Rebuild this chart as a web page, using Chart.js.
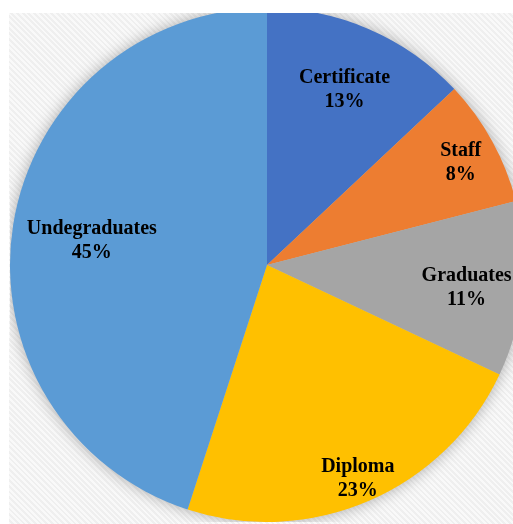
<!DOCTYPE html>
<html>
<head>
<meta charset="utf-8">
<script src="https://cdn.jsdelivr.net/npm/chart.js@4"></script>
<style>
  html, body { margin: 0; padding: 0; background: #ffffff; overflow: hidden; }
  #frame {
    position: absolute;
    left: 9px;
    top: 13px;
    width: 504px;
    height: 511px;
    overflow: hidden;
    background: repeating-linear-gradient(45deg, #f9f9f9 0px, #f9f9f9 2px, #efefef 2px, #efefef 4px);
  }
  #chart { position: absolute; left: 1px; top: -5px; }
</style>
</head>
<body>
<div id="frame">
  <canvas id="chart" width="514" height="514"></canvas>
</div>
<script>
const categories = ['Certificate', 'Staff', 'Graduates', 'Diploma', 'Undegraduates'];
const shares = [13, 8, 11, 23, 45];

const sliceColors = ['#4472C4', '#ED7D31', '#A5A5A5', '#FFC000', '#5B9BD5'];
// how far out along each slice the label sits (fraction of the radius)
const labelRadius = [0.76, 0.86, 0.78, 0.89, 0.69];

// soft grey glow behind the whole pie
const pieShadow = {
  id: 'pieShadow',
  beforeDatasetsDraw(chart) {
    const arc = chart.getDatasetMeta(0).data[0];
    if (!arc) return;
    const ctx = chart.ctx;
    ctx.save();
    ctx.shadowColor = 'rgba(0, 0, 0, 0.35)';
    ctx.shadowBlur = 16;
    ctx.fillStyle = '#bbbbbb';
    ctx.beginPath();
    ctx.arc(arc.x, arc.y, arc.outerRadius - 1, 0, Math.PI * 2);
    ctx.fill();
    ctx.restore();
  }
};

// category name and percent drawn inside each slice
const sliceLabels = {
  id: 'sliceLabels',
  afterDatasetsDraw(chart) {
    const ctx = chart.ctx;
    const meta = chart.getDatasetMeta(0);
    ctx.save();
    ctx.fillStyle = '#000000';
    ctx.font = 'bold 20px "Liberation Serif", "Times New Roman", serif';
    ctx.textAlign = 'center';
    ctx.textBaseline = 'middle';
    meta.data.forEach((arc, i) => {
      const mid = (arc.startAngle + arc.endAngle) / 2;
      const r = arc.outerRadius * labelRadius[i];
      const x = arc.x + Math.cos(mid) * r;
      const y = arc.y + Math.sin(mid) * r;
      ctx.fillText(categories[i], x, y - 8);
      ctx.fillText(shares[i] + '%', x, y + 16);
    });
    ctx.restore();
  }
};

new Chart(document.getElementById('chart'), {
  type: 'pie',
  data: {
    labels: categories,
    datasets: [{
      data: shares,
      backgroundColor: sliceColors,
      borderWidth: 0,
      hoverOffset: 0
    }]
  },
  options: {
    responsive: false,
    animation: false,
    layout: { padding: 0 },
    plugins: {
      legend: { display: false },
      tooltip: { enabled: false }
    }
  },
  plugins: [pieShadow, sliceLabels]
});
</script>
</body>
</html>
